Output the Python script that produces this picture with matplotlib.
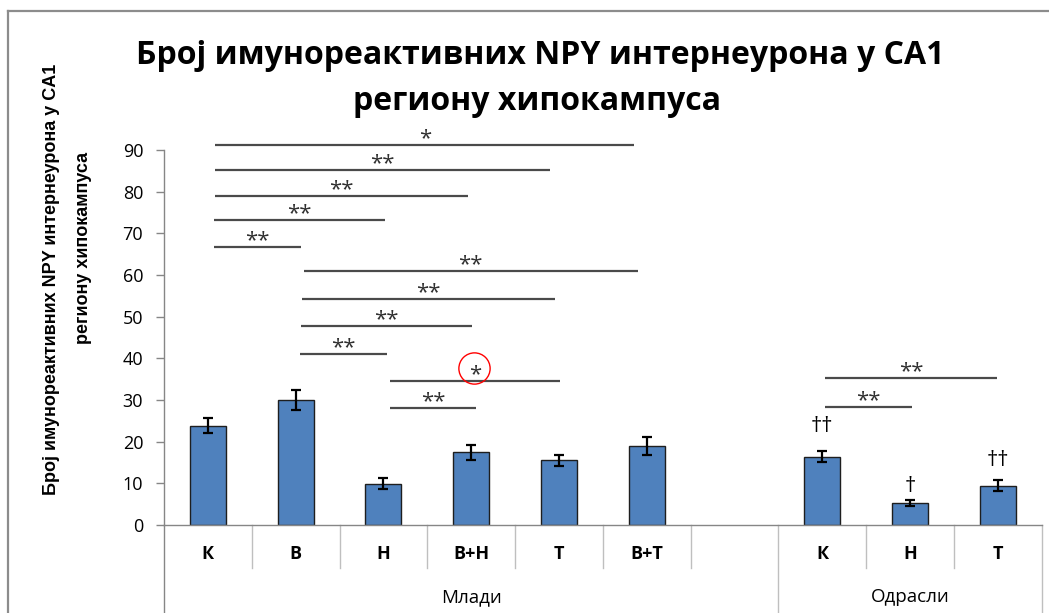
import matplotlib
matplotlib.use("Agg")
import matplotlib.pyplot as plt
from matplotlib.lines import Line2D
import numpy as np

# bar data, one slot per category (slot 6 is an empty spacer)
categories = ["К", "В", "Н", "В+Н", "Т", "В+Т", "", "К", "Н", "Т"]
means = [23.8, 30.0, 9.9, 17.5, 15.5, 19.0, np.nan, 16.4, 5.2, 9.4]
errors = [1.8, 2.4, 1.3, 1.8, 1.3, 2.1, np.nan, 1.35, 0.7, 1.3]
group_names = ["Млади", "Одрасли"]
group_centers = [3.0, 8.0]
group_edges = [-0.5, 6.5, 9.5]

# significance brackets
sig_x0 = [0.08, 0.08, 0.08, 0.07, 0.07, 1.09, 1.07, 1.06, 1.05, 2.07, 2.07, 7.03, 7.03]
sig_x1 = [4.86, 3.90, 2.96, 2.02, 1.06, 4.90, 3.96, 3.01, 2.04, 4.01, 3.06, 8.99, 8.02]
sig_y = [91.2, 85.3, 79.0, 73.2, 66.7, 61.0, 54.2, 47.8, 41.0, 34.6, 28.1, 35.2, 28.3]
sig_labels = ["*", "**", "**", "**", "**", "**", "**", "**", "**", "*", "**", "**", "**"]

# daggers over the adult bars
dag_x = [7, 8, 9]
dag_y = [23.7, 9.3, 15.4]
dag_labels = ["††", "†", "††"]

# red circle mark
circle_x, circle_y = 3.03, 37.7

TITLE = ["Број имунореактивних NPY интернеурона у CA1", "региону хипокампуса"]
YLABEL = ["Број имунореактивних NPY интернеурона у CA1", "региону хипокампуса"]

SANS = ["Open Sans", "DejaVu Sans"]
ARIAL = ["Liberation Sans", "DejaVu Sans"]

fig = plt.figure(figsize=(10.49, 6.13), dpi=100)
ax = fig.add_axes([164 / 1049, 1 - 525 / 613, 877.7 / 1049, 375 / 613])

x = np.arange(len(categories))
mask = ~np.isnan(means)
ax.bar(x[mask], np.array(means)[mask], width=0.41, color="#4f81bd",
       edgecolor="#1e1e1e", linewidth=1.0, zorder=2)
ax.errorbar(x[mask], np.array(means)[mask], yerr=np.array(errors)[mask],
            fmt="none", ecolor="black", elinewidth=1.6, capsize=3.6,
            capthick=1.6, zorder=3)

ax.set_xlim(-0.5, 9.5)
ax.set_ylim(0, 90)
ax.set_yticks(np.arange(0, 91, 10))
ax.set_xticks([])
for s in ["top", "right"]:
    ax.spines[s].set_visible(False)
for s in ["left", "bottom"]:
    ax.spines[s].set_color("#868686")
    ax.spines[s].set_linewidth(1.0)
ax.tick_params(axis="y", length=6, width=1, color="#868686", pad=9,
               labelsize=13)
for lab in ax.get_yticklabels():
    lab.set_family(SANS)

# category axis below the plot
xt = ax.get_xaxis_transform()
for b in np.arange(0.5, 9.5, 1.0):
    if b in group_edges:
        continue
    ax.plot([b, b], [0, -0.115], transform=xt, color="#bfbfbf", lw=1,
            clip_on=False)
for b in group_edges:
    ax.plot([b, b], [0, -0.24], transform=xt,
            color="#868686" if b == -0.5 else "#bfbfbf", lw=1, clip_on=False)
for xi, c in zip(x, categories):
    ax.text(xi, -0.077, c, transform=xt, ha="center", va="center",
            fontsize=13, fontweight="bold", family=SANS)
for gx, g in zip(group_centers, group_names):
    ax.text(gx, -0.192, g, transform=xt, ha="center", va="center",
            fontsize=13.5, family=SANS)

# significance lines
for x0, x1, y, lab in zip(sig_x0, sig_x1, sig_y, sig_labels):
    ax.plot([x0, x1], [y, y], color="#4a4a4a", lw=1.6, clip_on=False,
            solid_capstyle="butt")
    ax.text((x0 + x1) / 2, y + 0.2, lab, ha="center", va="baseline",
            fontsize=16, color="#303030", family=SANS, clip_on=False)

for dx, dy, lab in zip(dag_x, dag_y, dag_labels):
    ax.text(dx, dy, lab, ha="center", va="center", fontsize=16,
            color="black", family=SANS)

ax.plot(circle_x, circle_y, "o", ms=22.5, mfc="none", mec="red", mew=1.0,
        clip_on=False)

# title
fig.text(540 / 1049, 1 - 55 / 613, TITLE[0], ha="center", va="center",
         fontsize=23, fontweight="bold", family=SANS)
fig.text(537 / 1049, 1 - 101 / 613, TITLE[1], ha="center", va="center",
         fontsize=23, fontweight="bold", family=SANS)

# y label, two separate lines
fig.text(52 / 1049, 1 - 279 / 613, YLABEL[0], rotation=90, ha="center",
         va="center", fontsize=13, fontweight="bold", family=ARIAL)
fig.text(84 / 1049, 1 - 248 / 613, YLABEL[1], rotation=90, ha="center",
         va="center", fontsize=13, fontweight="bold", family=ARIAL)

# chart frame (only top and left visible)
fig.add_artist(Line2D([8 / 1049, 8 / 1049], [0, 1 - 11 / 613],
                      transform=fig.transFigure, color="#8c8c8c", lw=1.6))
fig.add_artist(Line2D([8 / 1049, 1], [1 - 11 / 613, 1 - 11 / 613],
                      transform=fig.transFigure, color="#8c8c8c", lw=1.6))

fig.savefig("out.png", dpi=100)
